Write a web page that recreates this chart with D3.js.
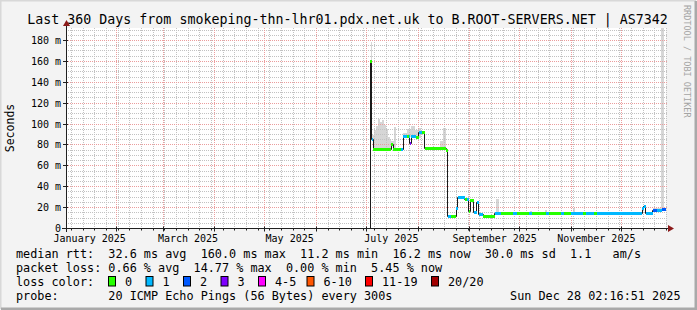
<!DOCTYPE html>
<html>
<head>
<meta charset="utf-8">
<script src="https://cdn.jsdelivr.net/npm/d3@7"></script>
<style>
	body { margin: 0; background: #f3f3f3; }
	text { font-family: "DejaVu Sans Mono", monospace; white-space: pre; }
</style>
</head>
<body>
<svg id="chart" width="697" height="310"></svg>
<script>
	// median rtt steps: day of year 2025 where the step starts, value in ms, loss bucket
	var stepDay = [184.4, 185.1, 186.0, 196.9, 198.1, 202.7, 204.1, 206.5, 207.3, 208.1,
		208.8, 211.5, 213.5, 215.4, 217.1, 229.9, 230.7, 232.5, 235.9, 236.7,
		240.9, 242.1, 243.5, 244.2, 246.5, 248.1, 249.3, 252.0, 258.9, 262.5,
		269.7, 272.1, 279.3, 281.1, 289.5, 291.3, 298.5, 300.3, 304.5, 311.7,
		313.5, 318.3, 320.1, 347.5, 348.5, 349.7, 353.7, 356.5, 359.5, 361.5]
	var stepMedian = [160, 85, 76, 80.5, 76, 76, 88, 88, 88, 81,
		88, 87, 92, 92, 76.5, 74.5, 11.8, 11.8, 19, 29.4,
		28, 27.5, 16, 26.5, 15.5, 25, 13, 11.3, 14, 14,
		14, 14, 14, 14, 14, 14, 14, 14, 14, 14,
		14, 14, 14, 19, 21.5, 14, 17.5, 17.5, 18.3, 17]
	var stepLoss = [0, 1, 0, 0, 0, 1, 1, 0, 1, 3,
		1, 0, 1, 0, 0, 0, 1, 0, 1, 1,
		0, 1, 0, 0, 1, 1, 1, 0, 1, 0,
		1, 0, 1, 0, 1, 0, 1, 0, 1, 0,
		1, 0, 1, 1, 1, 1, 2, 1, 2, 1]

	// smoke (highest ping) steps, 0 = no smoke
	var smokeDay = [184.7, 185.3, 186.5, 187.5, 188.9, 190.1, 191.3, 192.5, 193.7, 194.9,
		196.1, 196.9, 198.5, 199.7, 204.1, 206.5, 208.9, 210.9, 212.9, 214.5,
		217.5, 226.2, 227.7, 229.9, 259.8, 261.3, 280.2, 281.1, 289.2, 290.1,
		305.7, 307.2, 353.7, 358.8, 360.3]
	var smokeTop = [179, 90, 94, 98.6, 105, 102, 103.7, 99, 95.7, 87.7,
		86, 84, 97.3, 0, 91, 95.7, 98.6, 94, 96, 92.5,
		0, 84, 96, 0, 28, 0, 17, 0, 18, 0,
		20, 0, 19.5, 250, 19.5]

	var lossColors = ["#26ff00", "#00b8ff", "#0059ff", "#7e00ff", "#ff00ff", "#ff5500", "#ff0000", "#a10000"]
	var lossLabels = ["0", "1", "2", "3", "4-5", "6-10", "11-19", "20/20"]
	var monthLabels = ["2025-01-01", "2025-03-01", "2025-05-01", "2025-07-01", "2025-09-01", "2025-11-01"]
	var yTicks = [0, 20, 40, 60, 80, 100, 120, 140, 160, 180]

	var svg = d3.select("#chart"),
		margin = { top: 28, left: 66 },
		width = 600,
		height = 200;

	var start = new Date(Date.UTC(2025, 0, 2, 2, 16, 51)),
		end = new Date(Date.UTC(2025, 11, 28, 2, 16, 51));

	function dayDate(d) {
		return new Date(Date.UTC(2025, 0, 1) + (d - 1) * 864e5);
	}

	var x = d3.scaleUtc().domain([start, end]).range([margin.left + 0.5, margin.left + width + 0.5]);
	var y = d3.scaleLinear().domain([0, 191.5]).range([margin.top + height + 0.5, margin.top + 0.5]);

	// snap to pixel centres so 1px lines stay crisp
	var px = function (t) { return Math.round(x(t) - 0.5) + 0.5; };
	var py = function (v) { return Math.round(y(v) - 0.5) + 0.5; };
	var pe = function (t) { return Math.round(x(t)); };

	// frame
	svg.append("rect").attr("width", 697).attr("height", 310).attr("fill", "#f3f3f3");
	svg.append("path").attr("d", "M0,309V0H696").attr("fill", "none").attr("stroke", "#d8d8d8").attr("stroke-width", 3);
	svg.append("path").attr("d", "M1,309H696V1").attr("fill", "none").attr("stroke", "#a9a9a9").attr("stroke-width", 3);
	svg.append("rect").attr("x", margin.left).attr("y", margin.top)
		.attr("width", width).attr("height", height).attr("fill", "#fff");

	svg.append("clipPath").attr("id", "plot").append("rect")
		.attr("x", margin.left).attr("y", margin.top).attr("width", width + 1).attr("height", height);

	// smoke
	var medianAt = function (d) {
		var i = d3.bisectRight(stepDay, d) - 1;
		return i < 0 ? 0 : stepMedian[i];
	};
	var smoke = smokeDay.map(function (d, i) {
		return { d0: d, d1: i < smokeDay.length - 1 ? smokeDay[i + 1] : 362.1, top: smokeTop[i] };
	}).filter(function (s) { return s.top > 0; });

	svg.append("g").attr("clip-path", "url(#plot)")
		.selectAll("rect").data(smoke).enter().append("rect")
		.attr("x", function (s) { return pe(dayDate(s.d0)); })
		.attr("width", function (s) { return Math.max(1, pe(dayDate(s.d1)) - pe(dayDate(s.d0))); })
		.attr("y", function (s) { return Math.round(y(s.top)); })
		.attr("height", function (s) { return Math.max(0, Math.round(y(medianAt(s.d0))) - Math.round(y(s.top))); })
		.attr("fill", "#d6d6d6");

	// grid
	var grid = svg.append("g");
	var minorY = d3.range(5, 191, 5).filter(function (v) { return v % 20 != 0; });
	var majorY = yTicks.filter(function (v) { return v > 0; });
	var weeks = d3.utcSunday.range(start, end);
	var months = d3.utcMonth.range(start, end);

	grid.selectAll(".minor-y").data(minorY).enter().append("line")
		.attr("x1", margin.left).attr("x2", margin.left + width + 1)
		.attr("y1", py).attr("y2", py)
		.attr("stroke", "#c2c2c2").attr("stroke-dasharray", "1,1");
	grid.selectAll(".minor-x").data(weeks).enter().append("line")
		.attr("x1", px).attr("x2", px)
		.attr("y1", margin.top).attr("y2", margin.top + height)
		.attr("stroke", "#c2c2c2").attr("stroke-dasharray", "1,1");
	grid.selectAll(".major-y").data(majorY).enter().append("line")
		.attr("x1", margin.left).attr("x2", margin.left + width + 1)
		.attr("y1", py).attr("y2", py)
		.attr("stroke", "#eb9d9d").attr("stroke-dasharray", "1,1");
	grid.selectAll(".major-x").data(months).enter().append("line")
		.attr("x1", px).attr("x2", px)
		.attr("y1", margin.top).attr("y2", margin.top + height)
		.attr("stroke", "#eb9d9d").attr("stroke-dasharray", "1,1");

	// median line, dark steps + loss coloured segments
	var pts = stepDay.map(function (d, i) { return [px(dayDate(d)), py(stepMedian[i])]; });
	pts.push([px(end) - 1, py(stepMedian[stepMedian.length - 1])]);
	svg.append("path")
		.attr("d", "M" + pts[0][0] + "," + py(0) + "L" + d3.line().curve(d3.curveStepAfter)(pts).slice(1))
		.attr("fill", "none").attr("stroke", "#1a1a1a").attr("stroke-width", 1);

	svg.append("g").selectAll("line").data(stepDay).enter().append("line")
		.attr("x1", function (d) { return pe(dayDate(d)); })
		.attr("x2", function (d, i) { return i < stepDay.length - 1 ? pe(dayDate(stepDay[i + 1])) : pe(end) - 1; })
		.attr("y1", function (d, i) { return py(stepMedian[i]); })
		.attr("y2", function (d, i) { return py(stepMedian[i]); })
		.attr("stroke", function (d, i) { return lossColors[stepLoss[i]]; })
		.attr("stroke-width", 3);

	// axes
	var axis = svg.append("g").attr("stroke", "#202020");
	axis.append("line").attr("x1", margin.left - 4).attr("x2", margin.left + width + 4)
		.attr("y1", py(0)).attr("y2", py(0));
	axis.append("line").attr("x1", margin.left + 0.5).attr("x2", margin.left + 0.5)
		.attr("y1", margin.top - 4).attr("y2", margin.top + height + 4);
	axis.selectAll(".tx").data(weeks).enter().append("line")
		.attr("x1", px).attr("x2", px)
		.attr("y1", py(0)).attr("y2", py(0) + 2);
	axis.selectAll(".tm").data(months).enter().append("line")
		.attr("x1", px).attr("x2", px)
		.attr("y1", py(0) - 2).attr("y2", py(0) + 3);
	axis.selectAll(".ty").data(majorY).enter().append("line")
		.attr("x1", margin.left - 3).attr("x2", margin.left + 2)
		.attr("y1", py).attr("y2", py);

	var arrow = "#8b1a1a";
	svg.append("path").attr("fill", arrow)
		.attr("d", "M" + (margin.left + width + 2) + "," + (py(0) - 3.5) + "l6,3.5l-6,3.5z");
	svg.append("path").attr("fill", arrow)
		.attr("d", "M" + (margin.left - 3) + "," + (margin.top - 2) + "l3.5,-6l3.5,6z");

	// tick labels
	svg.append("g").selectAll("text").data(yTicks).enter().append("text")
		.attr("x", 61).attr("y", function (d) { return y(d) + 3.5; })
		.attr("text-anchor", "end").attr("font-size", "10px").attr("fill", "#000")
		.text(function (d) { return d == 0 ? "0" : d + " m"; });

	svg.append("g").selectAll("text").data(monthLabels).enter().append("text")
		.attr("x", function (d) { return x(d3.utcDay.offset(new Date(d + "T00:00:00Z"), 15)); })
		.attr("y", 241.5).attr("text-anchor", "middle").attr("font-size", "10px")
		.text(function (d) { return d3.utcFormat("%B %Y")(new Date(d + "T00:00:00Z")); });

	svg.append("text").attr("transform", "translate(14,128) rotate(-90)")
		.attr("text-anchor", "middle").attr("font-size", "11.5px").text("Seconds");

	svg.append("text").attr("x", 347.5).attr("y", 24).attr("text-anchor", "middle")
		.attr("font-size", "13.3px")
		.text("Last 360 Days from smokeping-thn-lhr01.pdx.net.uk to B.ROOT-SERVERS.NET | AS7342");

	svg.append("text").attr("transform", "translate(684,5) rotate(90)")
		.attr("font-size", "8.5px").attr("fill", "#a4a4a4")
		.text("RRDTOOL / TOBI OETIKER");

	// legend
	var legend = svg.append("g").attr("font-size", "11.8px");
	var rows = [
		[16, 258, "start", "median rtt:  32.6 ms avg  160.0 ms max  11.2 ms min  16.2 ms now  30.0 ms sd  1.1   am/s"],
		[16, 272, "start", "packet loss: 0.66 % avg  14.77 % max  0.00 % min  5.45 % now"],
		[16, 286, "start", "loss color:"],
		[16, 300, "start", "probe:       20 ICMP Echo Pings (56 Bytes) every 300s"],
		[680.5, 300, "end", "Sun Dec 28 02:16:51 2025"]
	];
	rows.forEach(function (t) {
		legend.append("text").attr("x", t[0]).attr("y", t[1]).attr("text-anchor", t[2]).text(t[3]);
	});

	var boxX = [108.5, 146, 183.5, 221, 258.5, 307, 365.5, 431.5];
	legend.selectAll("rect").data(lossColors).enter().append("rect")
		.attr("x", function (d, i) { return boxX[i]; }).attr("y", 276.5)
		.attr("width", 7).attr("height", 9.5)
		.attr("fill", function (d) { return d; }).attr("stroke", "#000");
	legend.selectAll(".ll").data(lossLabels).enter().append("text")
		.attr("x", function (d, i) { return boxX[i] + 16.5; }).attr("y", 286)
		.text(function (d) { return d; });
</script>
</body>
</html>
